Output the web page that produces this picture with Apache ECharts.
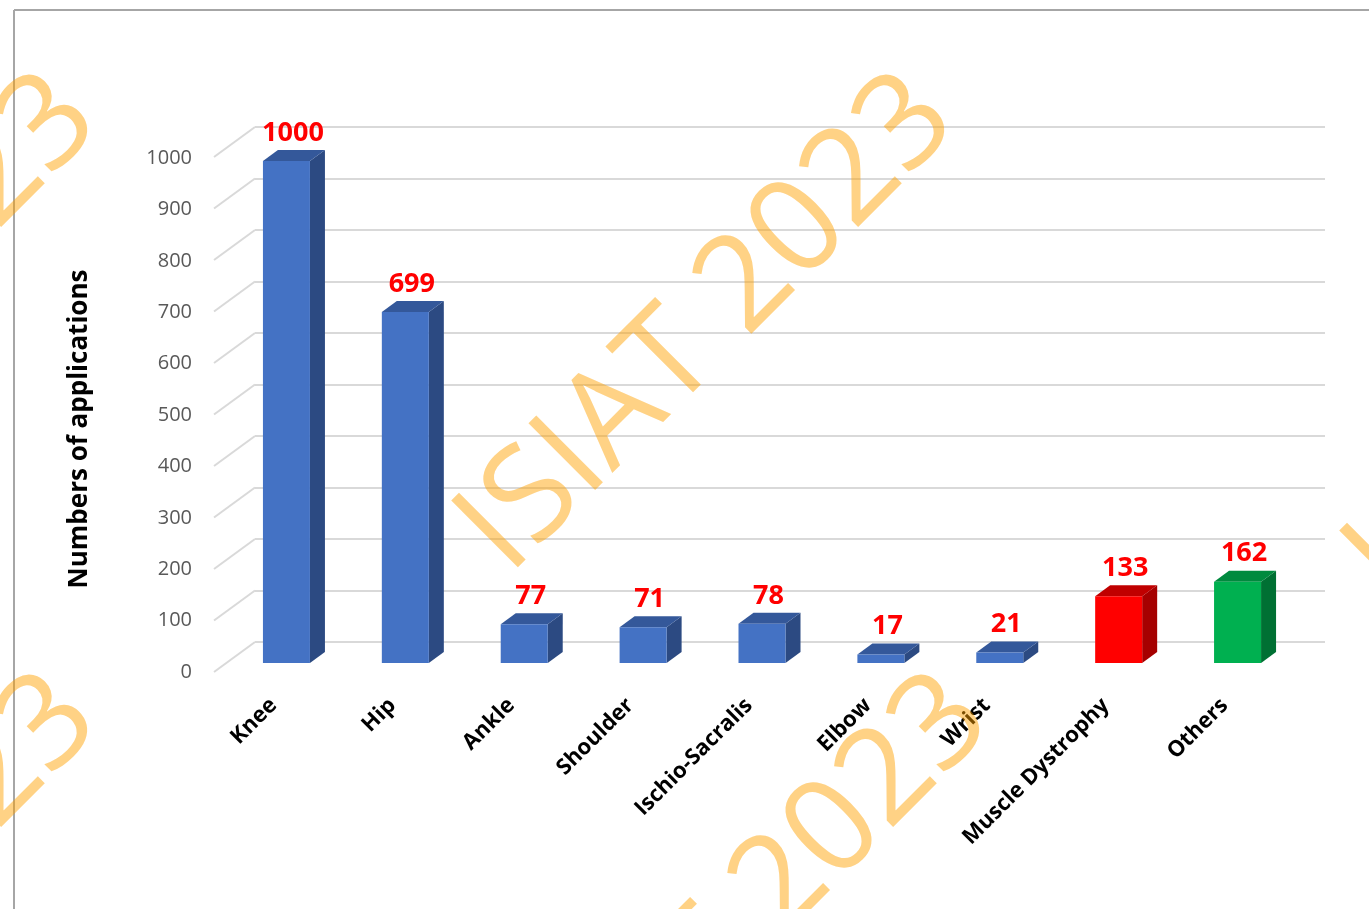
<!DOCTYPE html>
<html>
<head>
<meta charset="utf-8">
<script src="https://cdn.jsdelivr.net/npm/echarts@6/dist/echarts.min.js"></script>
<style>
  html, body { margin: 0; padding: 0; background: #ffffff; }
  #chart { width: 1369px; height: 909px; }
</style>
</head>
<body>
<div id="chart"></div>
<script>
// ---- data ----
const categories = ['Knee', 'Hip', 'Ankle', 'Shoulder', 'Ischio-Sacralis', 'Elbow', 'Wrist', 'Muscle Dystrophy', 'Others'];
const applications = [1000, 699, 77, 71, 78, 17, 21, 133, 162];
const yTicks = [0, 100, 200, 300, 400, 500, 600, 700, 800, 900, 1000];
const yAxisTitle = 'Numbers of applications';
const watermarkText = 'ISIAT 2023';

// ---- styling ----
const FONT = '"Open Sans", "Liberation Sans", sans-serif';
const GRID_COLOR = '#D9D9D9';
const faceColors = {
  standard: { front: '#4472C4', top: '#34589A', side: '#2C4A82' },
  'Muscle Dystrophy': { front: '#FF0000', top: '#C00000', side: '#A50000' },
  'Others': { front: '#00B050', top: '#008A3E', side: '#007033' }
};
function colorsFor(name) { return faceColors[name] || faceColors.standard; }

// 3D geometry of the bars and floor (pixels)
const FACE_W = 47;        // width of front face
const FACE_SHIFT = -28;   // front face centre relative to back-wall band centre
const DEPTH_DX = 15;      // bar depth, horizontal
const DEPTH_DY = 11;      // bar depth, vertical
const FRONT_DROP = 21;    // bar base below the back-wall zero line
const BAR_SCALE = 0.975;  // perspective shrink for the bar plane
const WALL_DX = 41;       // side-wall depth, horizontal
const WALL_DY = 30;       // side-wall depth, vertical

// watermark placements (text centres)
const WATERMARK_SPOTS = [
  [708, 324], [-149, 324], [1596, 354],
  [-149, 924], [743, 924]
];

const chart = echarts.init(document.getElementById('chart'), null, { renderer: 'canvas' });

function renderBar(params, api) {
  const i = api.value(0);
  const v = api.value(1);
  const base = api.coord([i, 0]);
  const h = api.size([0, v])[1] * BAR_SCALE;
  const cx = base[0] + FACE_SHIFT;
  const x0 = cx - FACE_W / 2, x1 = cx + FACE_W / 2;
  const yb = base[1] + FRONT_DROP, yt = yb - h;
  const c = colorsFor(categories[i]);
  return {
    type: 'group',
    children: [
      { type: 'polygon', shape: { points: [[x1, yt], [x1 + DEPTH_DX, yt - DEPTH_DY], [x1 + DEPTH_DX, yb - DEPTH_DY], [x1, yb]] }, style: { fill: c.side } },
      { type: 'polygon', shape: { points: [[x0, yt], [x0 + DEPTH_DX, yt - DEPTH_DY], [x1 + DEPTH_DX, yt - DEPTH_DY], [x1, yt]] }, style: { fill: c.top } },
      { type: 'rect', shape: { x: x0, y: yt, width: FACE_W, height: h }, style: { fill: c.front } },
      { type: 'text', style: { x: cx + DEPTH_DX / 2 - 1, y: yt - DEPTH_DY - 17, text: String(v), fill: '#FF0000', font: 'bold 27px ' + FONT, align: 'center', verticalAlign: 'middle' } }
    ]
  };
}

function renderWallLine(params, api) {
  const p = api.coord([0, api.value(1)]);
  const left = params.coordSys.x;
  return {
    type: 'line',
    shape: { x1: left - WALL_DX, y1: p[1] + WALL_DY, x2: left, y2: p[1] },
    style: { stroke: GRID_COLOR, lineWidth: 2 }
  };
}

const watermark = WATERMARK_SPOTS.map(([x, y]) => ({
  type: 'text',
  x: x,
  y: y,
  rotation: Math.PI / 4,
  z: 100,
  silent: true,
  style: { text: watermarkText, font: '132px ' + FONT, fill: 'rgba(255,160,0,0.48)', align: 'center', verticalAlign: 'middle' }
}));

const option = {
  backgroundColor: '#ffffff',
  animation: false,
  grid: [
    { left: 255, right: 44, top: 127, bottom: 267 },   // back wall
    { left: 214, right: 85, top: 158, bottom: 237 }    // front edge
  ],
  xAxis: [
    { gridIndex: 0, type: 'category', data: categories, show: false },
    {
      gridIndex: 1, type: 'category', data: categories,
      axisLine: { show: false }, axisTick: { show: false },
      axisLabel: { interval: 0, rotate: 45, margin: 30, color: '#000000', fontFamily: FONT, fontWeight: 'bold', fontSize: 22 }
    }
  ],
  yAxis: [
    {
      gridIndex: 0, type: 'value', min: 0, max: 1000, interval: 100,
      axisLine: { show: false }, axisTick: { show: false }, axisLabel: { show: false },
      splitLine: { show: true, lineStyle: { color: GRID_COLOR, width: 2 } }
    },
    {
      gridIndex: 1, type: 'value', min: 0, max: 1000, interval: 100,
      axisLine: { show: false }, axisTick: { show: false }, splitLine: { show: false },
      axisLabel: { margin: 22, color: '#595959', fontFamily: FONT, fontSize: 20, formatter: v => String(v) }
    }
  ],
  series: [
    {
      type: 'custom', name: 'wall', xAxisIndex: 0, yAxisIndex: 0,
      data: yTicks.map(t => [0, t]), renderItem: renderWallLine, silent: true, z: 1
    },
    {
      type: 'custom', name: 'applications', xAxisIndex: 0, yAxisIndex: 0,
      data: applications.map((v, i) => [i, v]), renderItem: renderBar, z: 3
    }
  ],
  graphic: [
    { type: 'line', shape: { x1: 14, y1: 10, x2: 1369, y2: 10 }, style: { stroke: '#A6A6A6', lineWidth: 2 }, z: 0, silent: true },
    { type: 'line', shape: { x1: 14, y1: 10, x2: 14, y2: 909 }, style: { stroke: '#A6A6A6', lineWidth: 2 }, z: 0, silent: true },
    {
      type: 'text', x: 80, y: 429, rotation: Math.PI / 2, silent: true,
      style: { text: yAxisTitle, font: 'bold 26px ' + FONT, fill: '#000000', align: 'center', verticalAlign: 'middle' }
    }
  ].concat(watermark)
};

chart.setOption(option);
</script>
</body>
</html>
